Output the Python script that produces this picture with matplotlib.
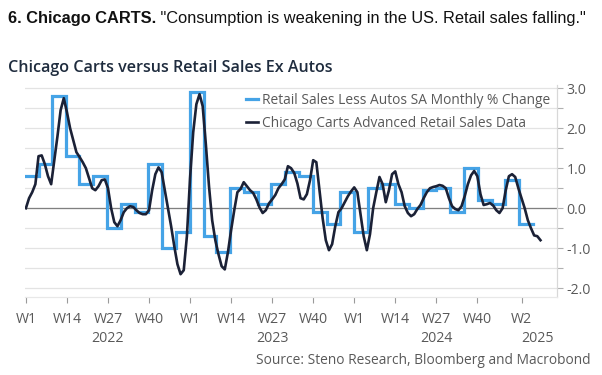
import datetime as dt
import numpy as np
import pandas as pd
import matplotlib
matplotlib.use("Agg")
import matplotlib.pyplot as plt
from matplotlib.transforms import blended_transform_factory

plt.rcParams['axes.unicode_minus'] = False
plt.rcParams['font.family'] = ['Open Sans', 'DejaVu Sans']

# ---------------- data ----------------
# Retail Sales Less Autos SA Monthly % Change (Jan 2022 .. Jan 2025)
retail_months = pd.date_range("2022-01-01", periods=37, freq="MS")
retail_values = [0.8, 1.1, 2.8, 1.3, 0.6, 0.8, -0.5, 0.1, -0.1, 1.1, -1.0, -0.6,
                 2.9, -0.7, -1.1, 0.5, 0.4, 0.1, 0.6, 0.9, 0.8, -0.1, -0.4, 0.4,
                 -0.6, 0.5, 0.6, 0.1, 0.0, 0.45, 0.5, -0.1, 1.0, 0.2, 0.1, 0.7,
                 -0.4]

# Chicago Carts Advanced Retail Sales Data (weekly, from W1 2022)
carts_start = "2022-01-03"
carts_values = [
    0.0, 0.25, 0.4, 0.6, 1.3, 1.32, 1.1, 0.8, 0.6, 1.2,
    1.8, 2.45, 2.75, 2.4, 2.0, 1.7, 1.4, 1.28, 1.15, 1.0,
    0.75, 0.5, 0.45, 0.55, 0.7, 0.72, 0.5, 0.0, -0.35, -0.45,
    -0.3, -0.1, 0.0, 0.05, 0.03, -0.05, -0.12, -0.15, -0.15, -0.05,
    0.45, 0.85, 1.02, 0.9, 0.45, 0.0, -0.45, -0.95, -1.4, -1.65,
    -1.55, -0.7, 0.75, 1.9, 2.6, 2.85, 2.55, 1.6, 0.55, -0.3,
    -0.8, -1.15, -1.45, -1.53, -1.1, -0.55, -0.05, 0.4, 0.48, 0.65,
    0.55, 0.45, 0.38, 0.22, 0.02, -0.12, -0.05, 0.12, 0.22, 0.33,
    0.5, 0.6, 0.72, 1.05, 1.0, 0.88, 0.62, 0.25, 0.22, 0.35,
    0.7, 1.2, 1.15, 0.45, -0.25, -0.8, -1.05, -0.9, -0.45, -0.1,
    0.0, 0.15, 0.3, 0.42, 0.52, 0.4, -0.15, -0.7, -1.05, -0.65,
    0.0, 0.4, 0.78, 0.6, 0.15, 0.45, 0.85, 0.92, 0.6, 0.4,
    0.05, -0.12, -0.2, -0.15, -0.02, 0.08, 0.25, 0.4, 0.5, 0.53,
    0.55, 0.58, 0.56, 0.5, 0.25, 0.05, -0.02, -0.05, 0.05, 0.3,
    0.6, 0.82, 0.93, 0.8, 0.35, 0.08, 0.1, 0.13, 0.07, -0.05,
    -0.12, 0.0, 0.45, 0.8, 0.85, 0.78, 0.5, 0.25, 0.0, -0.3,
    -0.5, -0.68, -0.7, -0.8,
]

tick_weeks = [(2022, 1), (2022, 14), (2022, 27), (2022, 40),
              (2023, 1), (2023, 14), (2023, 27), (2023, 40),
              (2024, 1), (2024, 14), (2024, 27), (2024, 40),
              (2025, 2)]
tick_labels = ["W%d" % w for _, w in tick_weeks]
years = ["2022", "2023", "2024", "2025"]
y_labels_at = [-2, -1, 0, 1, 2, 3]

title_bold = "6. Chicago CARTS."
title_rest = ' "Consumption is weakening in the US. Retail sales falling."'
subtitle = "Chicago Carts versus Retail Sales Ex Autos"
source = "Source: Steno Research, Bloomberg and Macrobond"
label_retail = "Retail Sales Less Autos SA Monthly % Change"
label_carts = "Chicago Carts Advanced Retail Sales Data"

# ---------------- helpers ----------------
origin = pd.Timestamp(carts_start)


def to_week(ts):
    return (pd.Timestamp(ts) - origin).days / 7.0


BLUE = "#45a3e6"
NAVY = "#1b2136"
GREY_TXT = "#595959"
GRID = "#e3e3e3"
FS = 9.6

fig = plt.figure(figsize=(6.02, 3.75), dpi=100)
W, H = 602, 375
ax = fig.add_axes([25 / W, 1 - 297 / H, (556.7 - 25) / W, (297 - 85) / H])

# blue step series
rx = [to_week(d) for d in retail_months]
rx_end = to_week(retail_months[-1] + pd.offsets.MonthBegin(1))
ax.step(rx + [rx_end], retail_values + [retail_values[-1]], where="post",
        color=BLUE, lw=2.3, label=label_retail, zorder=3, solid_joinstyle="miter")

# black weekly series
cx = np.arange(len(carts_values))
ax.plot(cx, carts_values, color=NAVY, lw=1.9, label=label_carts, zorder=4,
        solid_joinstyle="round")

ax.axhline(0, color="#808080", lw=0.9, zorder=2)

# axes setup
xmin = to_week("2022-01-01")
xmax = to_week("2025-03-25")
ax.set_xlim(xmin, xmax)
ax.set_ylim(-2.22, 3.08)

ax.yaxis.tick_right()
ax.set_yticks(y_labels_at)
ax.set_yticklabels(["%.1f" % v for v in y_labels_at])
ax.set_yticks(np.arange(-2, 3.01, 0.5), minor=True)
ax.grid(True, axis="y", which="both", color=GRID, lw=0.9, zorder=0)
ax.tick_params(axis="y", which="both", length=4, width=0.8, color="#b0b0b0",
               labelsize=FS + 0.6, labelcolor=GREY_TXT, pad=3, right=True, left=False)

tpos = [to_week(dt.date.fromisocalendar(y, w, 1)) for y, w in tick_weeks]
ax.set_xticks(tpos)
ax.set_xticklabels(tick_labels)
ax.tick_params(axis="x", length=4, width=0.8, color="#9a9a9a", labelsize=FS + 0.6,
               labelcolor=GREY_TXT, pad=7)

for s in ["top", "left"]:
    ax.spines[s].set_visible(False)
ax.spines["right"].set_color("#d8d8d8")
ax.spines["bottom"].set_color("#e8e8e8")
ax.spines["right"].set_linewidth(0.9)
ax.spines["bottom"].set_linewidth(0.9)

# year labels
trans = blended_transform_factory(ax.transData, fig.transFigure)
year_centers = [to_week("2022-07-04"), to_week("2023-07-03"), to_week("2024-07-01"),
                (to_week("2024-12-30") + xmax) / 2]
for yl, xc in zip(years, year_centers):
    ax.text(xc, 1 - 339 / H, yl, transform=trans, ha="center", va="center",
            fontsize=FS + 0.6, color=GREY_TXT)

# legend
leg = ax.legend(loc="upper right", bbox_to_anchor=(550 / W, 1 - 93 / H),
                bbox_transform=fig.transFigure, frameon=False, fontsize=FS + 0.3,
                handlelength=0.9, handletextpad=0.25, labelspacing=0.55,
                borderpad=0, borderaxespad=0)
for t in leg.get_texts():
    t.set_color(GREY_TXT)

# titles
tb = fig.text(8 / W, 1 - 18 / H, title_bold, fontsize=11.8, fontweight="bold",
              family="Liberation Sans", color="#111111", va="center", ha="left")
fig.canvas.draw()
bb = tb.get_window_extent(fig.canvas.get_renderer())
fig.text(bb.x1 / W, 1 - 18 / H, title_rest, fontsize=11.8, family="Liberation Sans",
         color="#111111", va="center", ha="left")

fig.text(8 / W, 1 - 68 / H, subtitle, fontsize=11.6, fontweight="semibold",
         color="#1f2c3e", va="center", ha="left")

fig.text(590 / W, 1 - 361 / H, source, fontsize=FS + 0.3, color=GREY_TXT,
         va="center", ha="right")

fig.savefig("out.png", dpi=100)
